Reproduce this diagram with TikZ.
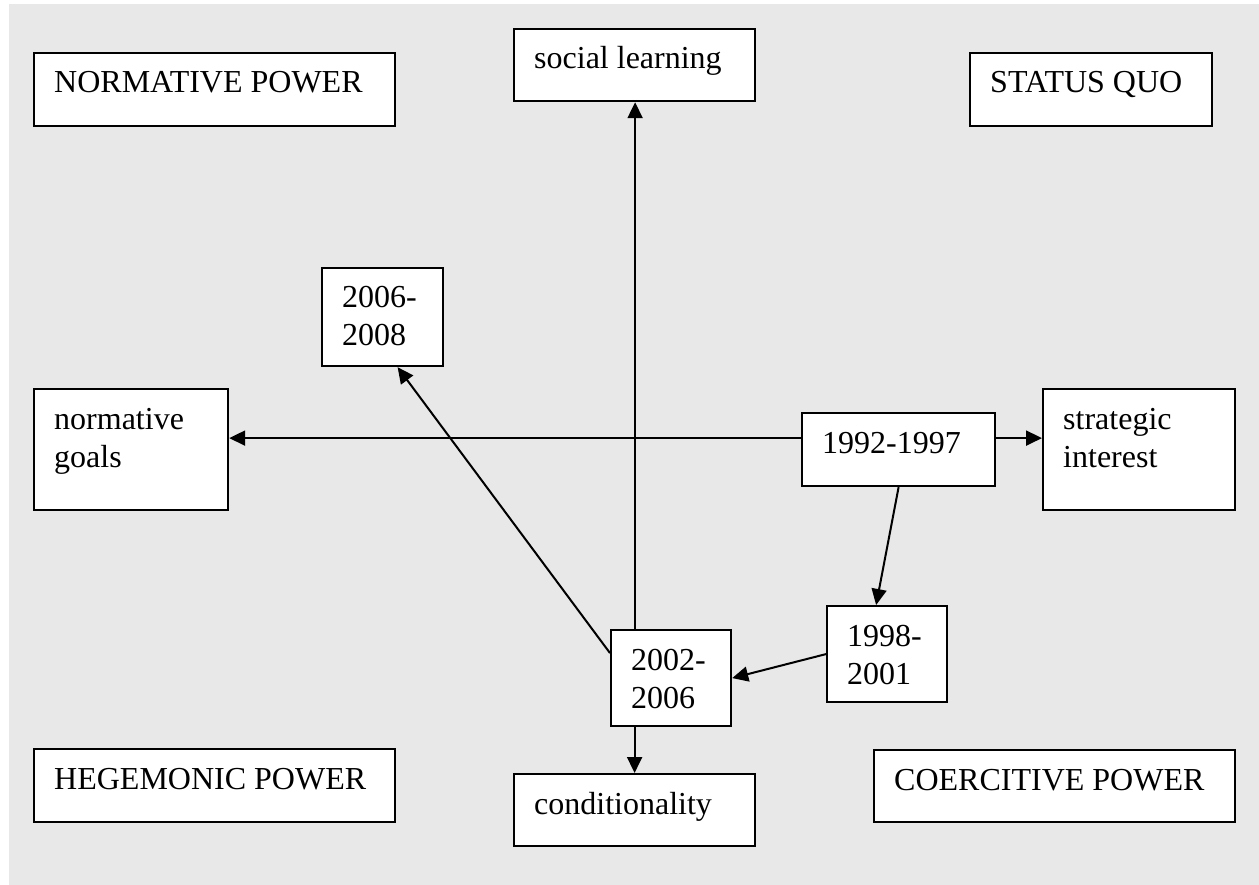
\documentclass[tikz,border=0pt]{standalone}
\usepackage{fontspec}
\setmainfont{Liberation Serif}
\usetikzlibrary{arrows.meta,calc}
\definecolor{bggray}{RGB}{232,232,232}
\tikzset{
  boxnode/.style={draw=black, fill=white, line width=2.2pt, inner sep=0pt, anchor=north west},
  lbl/.style={anchor=base west, inner sep=0pt, font=\fontsize{32}{38}\selectfont},
  arr/.style={line width=2pt, -{Triangle[length=16pt,width=15pt]}}
}
% \mybox{name}{x1}{y1}{x2}{y2}{text}
\newcommand{\mybox}[6]{%
  \node[boxnode, minimum width=#4-#2, minimum height=#5-#3] (#1) at (#2,#3) {};
  \node[lbl] (#1t) at ($(#1.north west)+(21,41)$) {\parbox[t]{360pt}{\raggedright #6}};
}
\begin{document}
\begin{tikzpicture}[x=1pt,y=-1pt]
\useasboundingbox (0,0) rectangle (1259,885);
\fill[bggray] (9,4) rectangle (1259,885);
\mybox{np}{33}{52}{394}{125}{NORMATIVE POWER}
\mybox{sl}{513}{28}{754}{100}{social learning}
\mybox{sq}{969}{52}{1211}{125}{STATUS QUO}
\mybox{y0608}{321}{267}{442}{365}{2006-\\2008}
\mybox{ng}{33}{388}{227}{509}{normative\\goals}
\mybox{y9297}{801}{412}{994}{485}{1992-1997}
\mybox{si}{1042}{388}{1234}{509}{strategic\\interest}
\mybox{y9801}{826}{605}{946}{701}{1998-\\2001}
\mybox{y0206}{610}{629}{730}{725}{2002-\\2006}
\mybox{hp}{33}{748}{394}{821}{HEGEMONIC POWER}
\mybox{cond}{513}{773}{754}{845}{conditionality}
\mybox{cp}{873}{749}{1234}{821}{COERCITIVE POWER}
% connectors
\draw[arr] ([yshift=11.5pt]y9297.west) -- ([yshift=11.5pt]y9297.west -| ng.east);
\draw[arr] ([yshift=11.5pt]y9297.east) -- ([yshift=11.5pt]y9297.east -| si.west);
\draw[arr] (y9297.south) -- ([xshift=-11pt]y9801.north);
\draw[arr] (y9801.west) -- (y0206.east);
\draw[arr] ([xshift=-36pt]y0206.north) -- ([xshift=-36pt]y0206.north |- sl.south);
\draw[arr] (y0206.south -| cond.north) -- (cond.north);
\draw[arr] ([yshift=25pt]y0206.west) -- ([xshift=15pt]y0608.south);
\end{tikzpicture}
\end{document}
